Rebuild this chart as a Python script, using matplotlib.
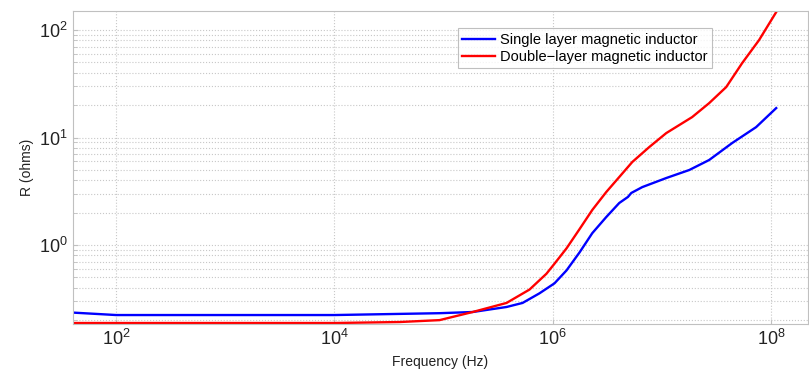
import numpy as np
import matplotlib
matplotlib.use("Agg")
import matplotlib.pyplot as plt
from matplotlib.ticker import LogLocator, NullFormatter, NullLocator

plt.rcParams['font.family'] = ['Liberation Sans', 'DejaVu Sans']

# frequency (Hz) and resistance (ohms)
freq_single = [40, 100, 1e4, 9.2e4, 1.85e5, 3.78e5, 5.3e5, 7.57e5, 1.04e6, 1.34e6,
               1.76e6, 2.31e6, 3.1e6, 4.08e6, 4.9e6, 5.26e6, 6.64e6, 1.1e7,
               1.79e7, 2.72e7, 4.42e7, 7.33e7, 1.12e8]
r_single = [0.235, 0.223, 0.223, 0.232, 0.238, 0.265, 0.289, 0.355, 0.44, 0.58,
            0.85, 1.29, 1.82, 2.46, 2.8, 3.05, 3.46, 4.2,
            4.99, 6.18, 8.89, 12.5, 18.8]

freq_double = [40, 1e4, 3.96e4, 9.2e4, 1.85e5, 3.78e5, 6.14e5, 8.77e5, 1.04e6,
               1.34e6, 1.76e6, 2.31e6, 3.1e6, 4.08e6, 5.37e6, 7.69e6, 1.1e7,
               1.9e7, 2.72e7, 3.9e7, 5.46e7, 7.8e7, 1.12e8]
r_double = [0.188, 0.188, 0.192, 0.2, 0.238, 0.289, 0.385, 0.54, 0.67,
            0.93, 1.4, 2.12, 3.11, 4.29, 5.92, 8.16, 11.0,
            15.5, 20.9, 29.5, 49.3, 80.7, 147]

fig = plt.figure(figsize=(8.09, 3.72), dpi=100)
ax = fig.add_axes([0.09, 0.129, 0.909, 0.841])

ax.loglog(freq_single, r_single, color='#0000ff', lw=1.7, label='Single layer magnetic inductor')
ax.loglog(freq_double, r_double, color='#ff0000', lw=1.7, label='Double\u2212layer magnetic inductor')

ax.set_xlim(40, 2.2e8)
ax.set_ylim(0.184, 150)

ax.set_xticks([1e2, 1e4, 1e6, 1e8])
ax.xaxis.set_minor_locator(NullLocator())
ax.yaxis.set_major_locator(LogLocator(base=10))
ax.yaxis.set_minor_locator(LogLocator(base=10, subs=np.arange(2, 10)))
ax.yaxis.set_minor_formatter(NullFormatter())

ax.grid(True, which='major', axis='both', linestyle=':', color='#c8c8c8', lw=0.8)
ax.grid(True, which='minor', axis='y', linestyle=':', color='#c8c8c8', lw=0.8)

for s in ax.spines.values():
    s.set_color('#c0c0c0')
ax.tick_params(which='both', direction='in', colors='#c0c0c0', labelcolor='#222222', labelsize=13)
ax.tick_params(which='minor', length=3)

ax.set_xlabel('Frequency (Hz)', fontsize=10, color='#222222')
ax.set_ylabel('R (ohms)', fontsize=10, color='#222222')

leg = ax.legend(loc='upper left', bbox_to_anchor=(0.514, 0.968), fontsize=10.5,
                fancybox=False, edgecolor='#b0b0b0', handlelength=2.2,
                borderpad=0.3, labelspacing=0.2, handletextpad=0.4)
leg.get_frame().set_linewidth(0.8)

fig.savefig('out.png', dpi=100)
